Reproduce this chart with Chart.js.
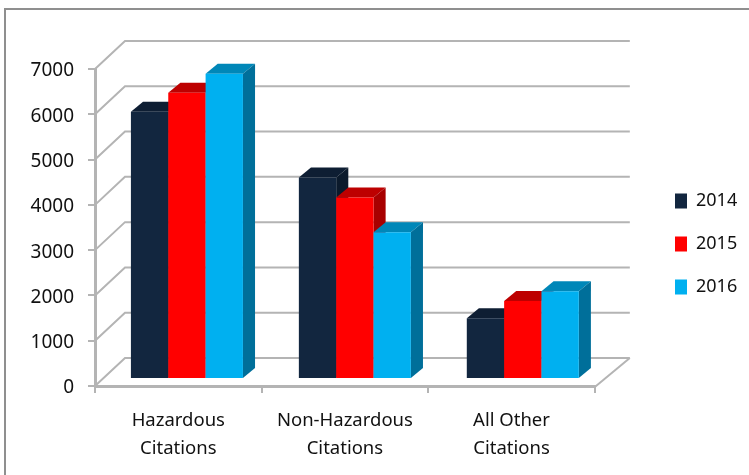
<!DOCTYPE html>
<html lang="en">
<head>
<meta charset="UTF-8">
<title>Citations by year</title>
<style>
  html, body { margin: 0; padding: 0; background: #fff; }
  .chartBox { position: relative; width: 749px; height: 475px; }
</style>
</head>
<body>
<div class="chartBox"><canvas id="myChart" width="749" height="475"></canvas></div>
<script src="https://cdn.jsdelivr.net/npm/chart.js"></script>
<script>
const categories = [['Hazardous', 'Citations'], ['Non-Hazardous', 'Citations'], ['All Other', 'Citations']];
const years = ['2014', '2015', '2016'];
const values2014 = [5900, 4450, 1340];
const values2015 = [6320, 4010, 1720];
const values2016 = [6740, 3240, 1940];
const yTicks = [0, 1000, 2000, 3000, 4000, 5000, 6000, 7000];

const fronts = ['#12263f', '#ff0000', '#00b0f0'];
const tops = ['#0e1e33', '#bd0000', '#0087b8'];
const sides = ['#0b1a2c', '#a80000', '#006f9a'];

const GRID = '#b4b4b4';
const wall = { dx: 30, dy: -28 };      // back wall offset from the front axis
const bar3d = { dx: 12, dy: -10 };     // depth of each bar
const barShift = { sx: 1.008, dx: 7.2, dy: -7 };  // bars stand a little inside the floor

function poly(ctx, pts, color) {
  ctx.fillStyle = color;
  ctx.beginPath();
  pts.forEach((p, i) => i ? ctx.lineTo(p[0], p[1]) : ctx.moveTo(p[0], p[1]));
  ctx.closePath();
  ctx.fill();
}

const frame3d = {
  id: 'frame3d',
  beforeDraw(chart) {
    // only the left and top edges of the outer frame are in the picture
    const ctx = chart.ctx;
    ctx.save();
    ctx.strokeStyle = '#8f8f8f';
    ctx.lineWidth = 2;
    ctx.beginPath();
    ctx.moveTo(5, 475);
    ctx.lineTo(5, 9);
    ctx.lineTo(749, 9);
    ctx.stroke();
    ctx.restore();
  },
  // walls and floor go under the bars; the bars are drawn here too so that
  // 2014 sits behind 2015 behind 2016, with their depth faces
  beforeDatasetsDraw(chart) {
    const ctx = chart.ctx, y = chart.scales.y, a = chart.chartArea;
    ctx.save();
    ctx.strokeStyle = GRID;
    ctx.lineWidth = 2;
    yTicks.forEach(v => {
      const py = y.getPixelForValue(v);
      ctx.beginPath();
      ctx.moveTo(a.left, py);
      ctx.lineTo(a.left + wall.dx, py + wall.dy);
      ctx.lineTo(a.right + wall.dx + 5, py + wall.dy);
      ctx.stroke();
    });
    const py0 = y.getPixelForValue(0);
    ctx.beginPath();
    ctx.moveTo(a.right, py0 + 1);
    ctx.lineTo(a.right + wall.dx + 5, py0 + wall.dy);
    ctx.stroke();
    ctx.restore();

    ctx.save();
    ctx.transform(barShift.sx, 0, 0, 1, barShift.dx, barShift.dy);
    chart.data.datasets.forEach((ds, d) => {
      chart.getDatasetMeta(d).data.forEach(bar => {
        const l = bar.x - bar.width / 2, r = bar.x + bar.width / 2;
        const t = bar.y, b = bar.base;
        poly(ctx, [[l, t], [r, t], [r + bar3d.dx, t + bar3d.dy], [l + bar3d.dx, t + bar3d.dy]], tops[d]);
        poly(ctx, [[r, t], [r + bar3d.dx, t + bar3d.dy], [r + bar3d.dx, b + bar3d.dy], [r, b]], sides[d]);
        bar.draw(ctx);
      });
    });
    ctx.restore();
    return false;
  },
  afterLayout(chart) {
    const lg = chart.legend;
    const w = lg.width;
    lg.left = 650;
    lg.right = 650 + w;
    lg.top -= 28;
    lg.bottom -= 28;
  }
};

new Chart(document.getElementById('myChart'), {
  type: 'bar',
  data: {
    labels: categories,
    datasets: [
      { label: years[0], data: values2014, backgroundColor: fronts[0] },
      { label: years[1], data: values2015, backgroundColor: fronts[1] },
      { label: years[2], data: values2016, backgroundColor: fronts[2] }
    ]
  },
  options: {
    responsive: false,
    animation: false,
    devicePixelRatio: 1,
    categoryPercentage: 0.667,
    barPercentage: 1,
    layout: { padding: { left: 0, top: 69, right: 57, bottom: 0 } },
    plugins: {
      tooltip: { enabled: false },
      legend: {
        position: 'right',
        labels: {
          boxWidth: 12, boxHeight: 15, padding: 25,
          color: '#111', font: { family: 'Noto Sans', size: 18 }
        }
      }
    },
    scales: {
      x: {
        afterFit(s) { s.height = 89; },
        grid: { drawOnChartArea: false, drawTicks: true, tickLength: 7, color: GRID, lineWidth: 2 },
        border: { color: GRID, width: 3 },
        ticks: { color: '#111', padding: 14, font: { family: 'Noto Sans', size: 18.5, lineHeight: 1.52 }, maxRotation: 0 }
      },
      y: {
        min: 0, max: 7000,
        afterFit(s) { s.width = 95; },
        grid: { drawOnChartArea: false, drawTicks: true, tickLength: 7, color: GRID, lineWidth: 2 },
        border: { color: GRID, width: 3 },
        ticks: {
          stepSize: 1000, color: '#111', padding: 14, labelOffset: 2,
          font: { family: 'Noto Sans', size: 19 },
          callback: v => String(v)
        }
      }
    }
  },
  plugins: [frame3d]
});
</script>
</body>
</html>
